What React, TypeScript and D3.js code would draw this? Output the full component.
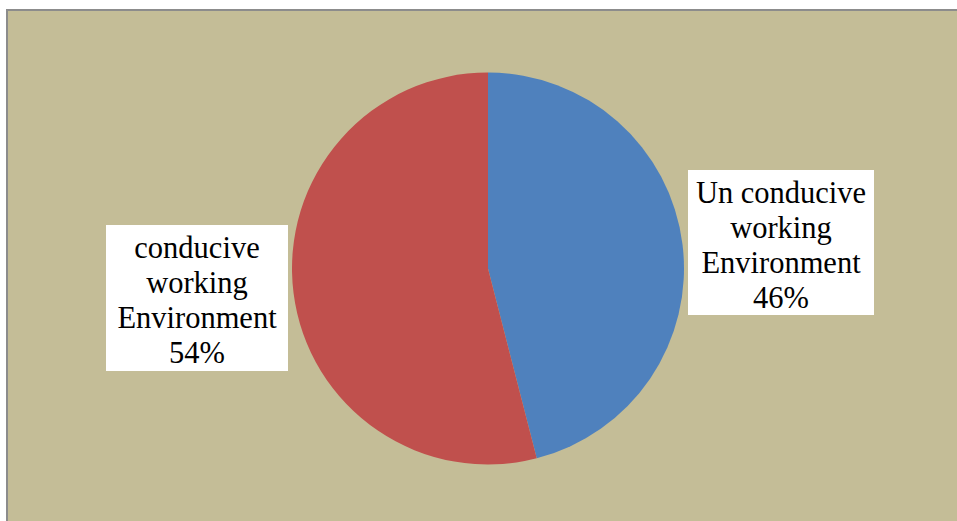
import React from "react";
import * as d3 from "d3";

const categories = ["Un conducive working Environment", "conducive working Environment"];
const values = [46, 54];
const labelLines = [
  ["Un conducive", "working", "Environment", "46%"],
  ["conducive", "working", "Environment", "54%"],
];
const colors = ["#4f81bd", "#c0504d"];

export default function App() {
  const W = 957, H = 521;
  const cx = 488, cy = 268.5, r = 196;
  const pie = d3.pie<number>().sort(null).value((d) => d);
  const arcs = pie(values);
  const arcGen = d3.arc<d3.PieArcDatum<number>>().innerRadius(0).outerRadius(r);
  const boxes = [
    { x: 688, y: 170, w: 186, h: 145 },
    { x: 106, y: 225, w: 182, h: 146 },
  ];
  const fs = 30.5;
  const lh = 35;
  return (
    <svg width={W} height={H} style={{ position: "absolute", left: 0, top: 0 }}>
      <rect x={0} y={0} width={W} height={H} fill="#ffffff" />
      <rect x={7} y={10} width={W} height={H} fill="#c4bd97" stroke="#8c8c8c" strokeWidth={2} />
      <g transform={`translate(${cx},${cy})`}>
        {arcs.map((a, i) => (
          <path key={categories[i]} d={arcGen(a) || ""} fill={colors[i]} />
        ))}
      </g>
      {boxes.map((b, i) => (
        <g key={i}>
          <rect x={b.x} y={b.y} width={b.w} height={b.h} fill="#ffffff" />
          {labelLines[i].map((t, j) => (
            <text
              key={j}
              x={b.x + b.w / 2}
              y={b.y + b.h / 2 + 2 + (j - 1.5) * lh}
              dy="0.35em"
              textAnchor="middle"
              fontFamily="'Liberation Serif', serif"
              fontSize={fs}
              fill="#000"
            >
              {t}
            </text>
          ))}
        </g>
      ))}
    </svg>
  );
}
